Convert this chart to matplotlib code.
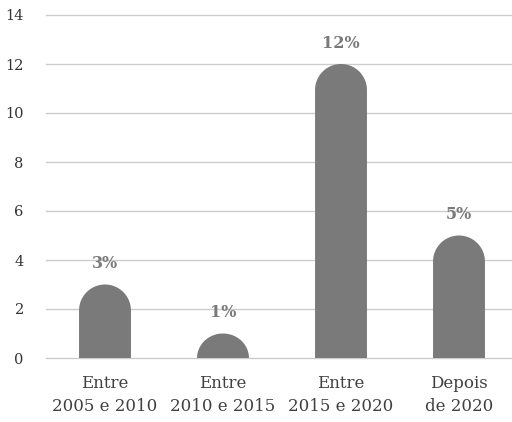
import numpy as np
import matplotlib.pyplot as plt
from matplotlib.path import Path
from matplotlib.patches import PathPatch

categories = ['Entre\n2005 e 2010', 'Entre\n2010 e 2015', 'Entre\n2015 e 2020', 'Depois\nde 2020']
values = [3, 1, 12, 5]
valueLabels = ['3%', '1%', '12%', '5%']
yTicks = [0, 2, 4, 6, 8, 10, 12, 14]


def roundedBar(ax, x, height, width, radiusPx, color):
    # rectangle with a half-ellipse top; radius given in pixels, converted to data units
    bbox = ax.get_window_extent()
    y0, y1 = ax.get_ylim()
    pxPerUnit = bbox.height / (y1 - y0)
    ry = min(radiusPx / pxPerUnit, height)
    rx = width / 2.0
    top = height - ry
    t = np.linspace(np.pi, 0, 40)
    xs = x + rx * np.cos(t)
    ys = top + ry * np.sin(t)
    verts = [(x - rx, 0)] + list(zip(xs, ys)) + [(x + rx, 0), (x - rx, 0)]
    codes = [Path.MOVETO] + [Path.LINETO] * (len(verts) - 2) + [Path.CLOSEPOLY]
    ax.add_patch(PathPatch(Path(verts, codes), facecolor=color, edgecolor='none', zorder=3))


def main():
    fig = plt.figure(figsize=(5.12, 4.22), dpi=100)
    ax = fig.add_axes([46 / 512, 1 - 358 / 422, 472 / 512, (358 - 15) / 422])
    ax.set_xlim(-0.5, 3.5)
    ax.set_ylim(0, 14)

    barColor = '#7a7a7a'
    barWidth = 0.44
    for i, v in enumerate(values):
        roundedBar(ax, i, v, barWidth, 26, barColor)
        ax.annotate(valueLabels[i], (i, v), xytext=(0, 9), textcoords='offset points',
                    ha='center', va='bottom', fontsize=11.5, fontweight='bold',
                    color='#7a7a7a', family='DejaVu Serif')

    ax.set_yticks(yTicks)
    ax.yaxis.grid(True, color='#cccccc', linewidth=1.0, zorder=0)
    for gl in ax.get_ygridlines():
        gl.set_clip_on(False)
    ax.set_axisbelow(True)
    ax.set_xticks(range(len(categories)))
    ax.set_xticklabels(categories, fontsize=12, color='#404040', family='DejaVu Serif',
                       linespacing=1.45)
    for lbl in ax.get_yticklabels():
        lbl.set_family('DejaVu Serif')
        lbl.set_fontsize(10.5)
        lbl.set_color('#333333')
    ax.tick_params(axis='both', length=0)
    ax.tick_params(axis='y', pad=16)
    ax.tick_params(axis='x', pad=12)
    for s in ax.spines.values():
        s.set_visible(False)

    fig.savefig('out.png', dpi=100)


if __name__ == "__main__":
    main()
